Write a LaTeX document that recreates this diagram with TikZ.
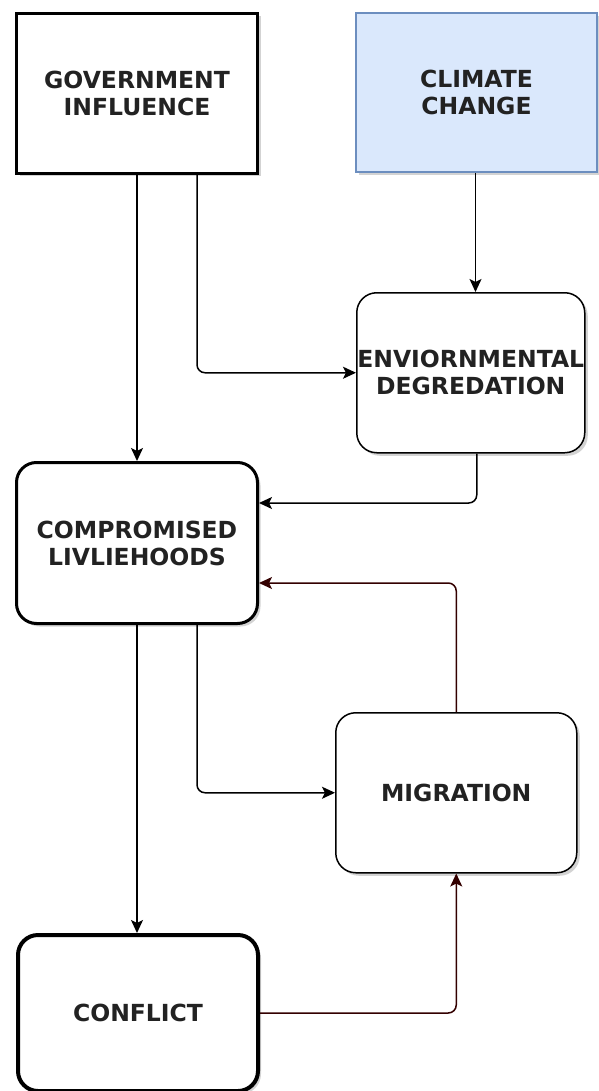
\documentclass[tikz,border=0pt]{standalone}
\usepackage{fontspec}
\setmainfont{DejaVu Sans}
\usetikzlibrary{arrows.meta,shadows,calc}
\definecolor{txt}{HTML}{222222}
\definecolor{cfill}{HTML}{DAE8FC}
\definecolor{cdraw}{HTML}{6C8EBF}
\definecolor{dred}{HTML}{330000}
\begin{document}
\begin{tikzpicture}[x=1pt,y=-1pt,
  box/.style={draw=black,fill=white,minimum width=241pt,minimum height=160pt,anchor=north west,
    align=center,font=\fontsize{23.5}{27}\selectfont\bfseries,text=txt,inner sep=0pt,
    drop shadow={shadow xshift=3pt,shadow yshift=-3pt,opacity=0.35,fill=gray}},
  thickbox/.style={box,line width=3pt},
  thinbox/.style={box,line width=1.5pt,rounded corners=20pt},
  conn/.style={draw=black,line width=1.5pt,rounded corners=8pt,-{Stealth[length=13pt,width=12pt,inset=3pt]}},
  dconn/.style={conn,draw=dred,-{Stealth[length=13pt,width=12pt,inset=3pt,fill=dred]}}
]
\useasboundingbox (0,0) rectangle (598,1091);
\node[thickbox] (gov) at (15,12) {GOVERNMENT\\INFLUENCE};
\node[box,fill=cfill,draw=cdraw,line width=2pt,minimum width=241pt,minimum height=159pt] (climate) at (355,12) {CLIMATE\\CHANGE};
\node[thinbox,minimum width=228pt] (env) at (356,292) {ENVIORNMENTAL\\DEGREDATION};
\node[thickbox,rounded corners=20pt,minimum height=161pt] (comp) at (15,461) {COMPROMISED\\LIVLIEHOODS};
\node[thinbox] (mig) at (335,712) {MIGRATION};
\node[box,line width=4pt,rounded corners=20pt,minimum width=240pt,minimum height=156pt] (conf) at (16,933) {CONFLICT};

\draw[conn] (gov.south) -- (gov.south |- comp.north);
\draw[conn] ([xshift=60pt]gov.south) |- (env.west);
\draw[conn] ([xshift=-1pt]climate.south) -- ([xshift=-1pt]climate.south |- env.north);
\draw[conn] ([xshift=6pt]env.south) |- ([yshift=40pt]comp.east);
\draw[dconn] (mig.north) |- ([yshift=-40pt]comp.east);
\draw[conn] (comp.south) -- (comp.south |- conf.north);
\draw[conn] ([xshift=60pt]comp.south) |- (mig.west);
\draw[dconn] (conf.east) -| (mig.south);
\end{tikzpicture}
\end{document}
